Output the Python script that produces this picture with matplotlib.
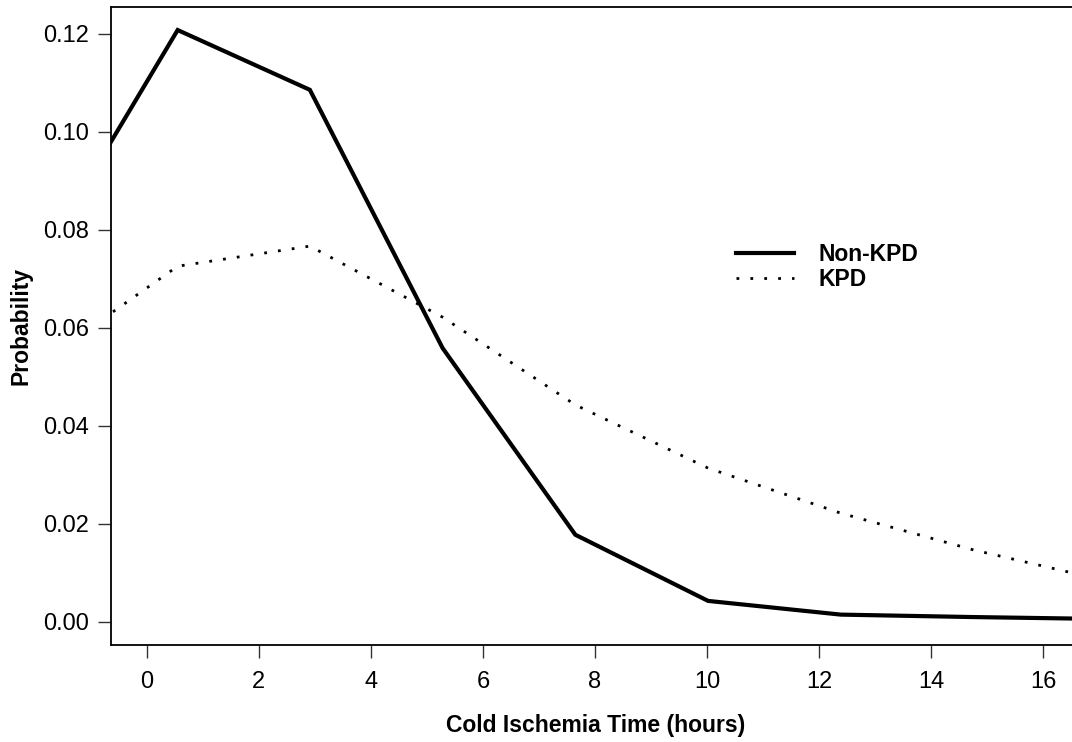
# Cold ischemia time distribution, Non-KPD vs KPD

import numpy as np
import matplotlib.pyplot as plt

plt.rcParams['font.family'] = ['Liberation Sans', 'DejaVu Sans']

# bin midpoints (hours)
hours = [-1.82, 0.55, 2.91, 5.28, 7.65, 10.02, 12.39, 14.76, 17.13]

# probabilities
non_kpd = [0.0754, 0.1208, 0.1086, 0.0559, 0.0178, 0.0043, 0.0015, 0.0010, 0.0006]
kpd = [0.0535, 0.0726, 0.0767, 0.0622, 0.0443, 0.0314, 0.0222, 0.0147, 0.0084]

x_ticks = [0, 2, 4, 6, 8, 10, 12, 14, 16]
y_ticks = [0.00, 0.02, 0.04, 0.06, 0.08, 0.10, 0.12]

fig = plt.figure(figsize=(10.72, 7.42), dpi=100)
ax = fig.add_axes([111 / 1072, 97 / 742, (1080 - 111) / 1072, (645 - 7) / 742])

ax.plot(hours, non_kpd, color="black", lw=3.0, label="Non-KPD", solid_joinstyle="miter")
ax.plot(hours, kpd, color="black", lw=2.0, linestyle=(0, (1, 4)), label="KPD")

ax.set_xlim(-0.64, 16.66)
ax.set_ylim(-0.0047, 0.1255)
ax.set_xticks(x_ticks)
ax.set_yticks(y_ticks)
ax.set_yticklabels(["%.2f" % v for v in y_ticks])

ax.spines['right'].set_visible(False)
for s in ['left', 'bottom', 'top']:
    ax.spines[s].set_linewidth(1.3)
ax.tick_params(axis='both', direction='out', length=9.5, width=1.0,
               color="#333333", labelsize=17)
ax.tick_params(axis='x', pad=9)
ax.tick_params(axis='y', pad=6)

ax.set_xlabel("Cold Ischemia Time (hours)", fontsize=16.5, fontweight="bold", labelpad=15)
ax.set_ylabel("Probability", fontsize=16.5, fontweight="bold", labelpad=8)

leg = ax.legend(loc="upper left", bbox_to_anchor=(0.624, 0.663), frameon=False,
                handlelength=2.5, handletextpad=1.1, labelspacing=0.1,
                prop={'weight': 'bold', 'size': 16.5})

fig.savefig("out.png", dpi=100)
